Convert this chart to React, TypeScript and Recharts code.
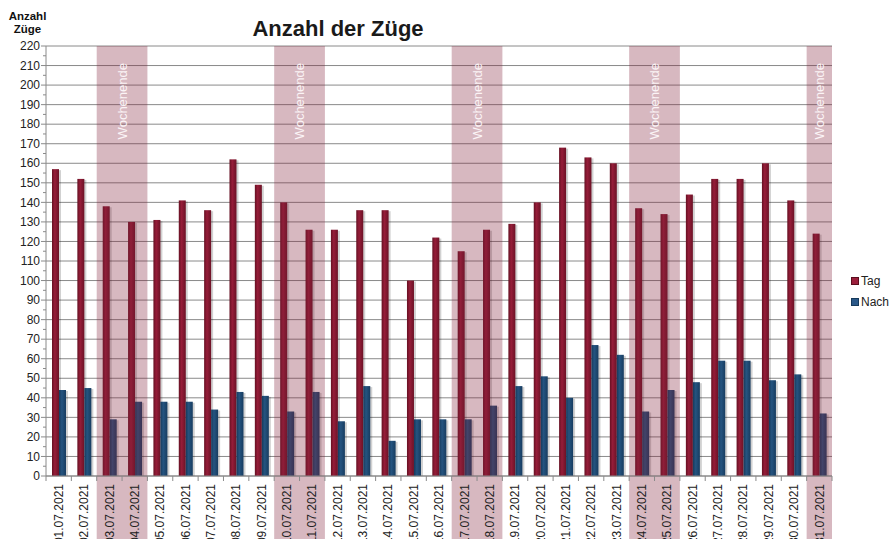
import { BarChart, Bar, XAxis, YAxis, CartesianGrid, ReferenceArea, Legend } from 'recharts';

const dates = [
  '01.07.2021', '02.07.2021', '03.07.2021', '04.07.2021', '05.07.2021', '06.07.2021', '07.07.2021',
  '08.07.2021', '09.07.2021', '10.07.2021', '11.07.2021', '12.07.2021', '13.07.2021', '14.07.2021',
  '15.07.2021', '16.07.2021', '17.07.2021', '18.07.2021', '19.07.2021', '20.07.2021', '21.07.2021',
  '22.07.2021', '23.07.2021', '24.07.2021', '25.07.2021', '26.07.2021', '27.07.2021', '28.07.2021',
  '29.07.2021', '30.07.2021', '31.07.2021',
];
const tag = [157, 152, 138, 130, 131, 141, 136, 162, 149, 140, 126, 126, 136, 136, 100, 122, 115, 126, 129, 140, 168, 163, 160, 137, 134, 144, 152, 152, 160, 141, 124];
const nacht = [44, 45, 29, 38, 38, 38, 34, 43, 41, 33, 43, 28, 46, 18, 29, 29, 29, 36, 46, 51, 40, 67, 62, 33, 44, 48, 59, 59, 49, 52, 32];
const yTicks = [0, 10, 20, 30, 40, 50, 60, 70, 80, 90, 100, 110, 120, 130, 140, 150, 160, 170, 180, 190, 200, 210, 220];
const weekends = [
  ['03.07.2021', '04.07.2021'],
  ['10.07.2021', '11.07.2021'],
  ['17.07.2021', '18.07.2021'],
  ['24.07.2021', '25.07.2021'],
  ['31.07.2021', '31.07.2021'],
];

const data = dates.map((d, i) => ({ date: d, Tag: tag[i], Nacht: nacht[i] }));

const W = 889;
const H = 539;
const AXIS_W = 46;
const X_AXIS_H = 63;
const TOP = 46;
const RIGHT = 57;
const PLOT_H = H - TOP - X_AXIS_H;
const PLOT_W = W - AXIS_W - RIGHT;
const STEP = PLOT_H / (yTicks.length - 1);
const HALF_BAND = PLOT_W / dates.length / 2;
const FONT = '"Liberation Sans", Arial, sans-serif';
const GRID = '#8a8a8a';

const YTick = ({ y, payload }: any) => (
  <g>
    <text x={AXIS_W - 6} y={y} dy="0.35em" textAnchor="end" fontSize={12} fill="#222">
      {payload.value}
    </text>
    <line x1={AXIS_W - 5} x2={AXIS_W} y1={y} y2={y} stroke={GRID} />
    {payload.value < 220 && (
      <line x1={AXIS_W - 3} x2={AXIS_W} y1={y - STEP / 2} y2={y - STEP / 2} stroke={GRID} />
    )}
  </g>
);

const XTick = ({ x, y, payload, index }: any) => (
  <g>
    <line x1={x - HALF_BAND} x2={x - HALF_BAND} y1={y - 8} y2={y - 3} stroke={GRID} />
    {index === dates.length - 1 && (
      <line x1={x + HALF_BAND} x2={x + HALF_BAND} y1={y - 8} y2={y - 3} stroke={GRID} />
    )}
    <text transform={`translate(${x},${y}) rotate(-90)`} textAnchor="end" dy="0.35em" fontSize={12} fill="#222">
      {payload.value}
    </text>
  </g>
);

const BandShape = ({ x, y, width, height }: any) => (
  <g>
    <rect x={x} y={y} width={width} height={height + X_AXIS_H} fill="#84223b" fillOpacity={0.32} />
    <text
      transform={`translate(${x + width / 2},${TOP + 17}) rotate(-90)`}
      textAnchor="end"
      dy="0.35em"
      fontSize={13}
      fill="#fbf4f6"
    >
      Wochenende
    </text>
  </g>
);

const barShape = (gradId: string) => ({ x, y, width, height }: any) => (
  <g>
    <rect x={x + 2} y={y + 1} width={width} height={Math.max(height - 1, 0)} fill="#000" fillOpacity={0.18} />
    <rect x={x} y={y} width={width} height={height} fill={`url(#${gradId})`} />
  </g>
);

const LegendBox = () => (
  <div style={{ fontSize: 12, color: '#222', lineHeight: '21px', whiteSpace: 'nowrap' }}>
    <div>
      <span style={{ display: 'inline-block', width: 6, height: 6, background: '#9b1f3c', border: '0.5px solid #5a0e1e', marginRight: 2 }} />
      Tag
    </div>
    <div>
      <span style={{ display: 'inline-block', width: 6, height: 6, background: '#2a5888', border: '0.5px solid #163a5c', marginRight: 2 }} />
      Nacht
    </div>
  </div>
);

export default function App() {
  return (
    <div style={{ position: 'absolute', left: 0, top: 0, width: W, height: H, fontFamily: FONT, overflow: 'hidden' }}>
      <div style={{ position: 'absolute', left: 0, top: 10, width: 55, textAlign: 'center', fontSize: 11.5, fontWeight: 'bold', lineHeight: '13px', color: '#111' }}>
        Anzahl<br />Züge
      </div>
      <div style={{ position: 'absolute', left: 200, top: 17, width: 276, textAlign: 'center', fontSize: 22, fontWeight: 'bold', color: '#1a1a1a', lineHeight: '24px' }}>
        Anzahl der Züge
      </div>
      <BarChart
        width={W}
        height={H}
        data={data}
        margin={{ top: TOP, right: RIGHT, bottom: 0, left: 0 }}
        barGap={0}
      >
        <defs>
          <linearGradient id="gTag" x1="0" y1="0" x2="1" y2="0">
            <stop offset="0%" stopColor="#651022" />
            <stop offset="40%" stopColor="#961d39" />
            <stop offset="100%" stopColor="#6c1226" />
          </linearGradient>
          <linearGradient id="gNacht" x1="0" y1="0" x2="1" y2="0">
            <stop offset="0%" stopColor="#163a5c" />
            <stop offset="40%" stopColor="#255480" />
            <stop offset="100%" stopColor="#173c60" />
          </linearGradient>
        </defs>
        <CartesianGrid vertical={false} stroke={GRID} />
        <XAxis
          dataKey="date"
          interval={0}
          height={X_AXIS_H}
          stroke={GRID}
          tickLine={false}
          tick={<XTick />}
        />
        <YAxis
          domain={[0, 220]}
          ticks={yTicks}
          width={AXIS_W}
          stroke={GRID}
          tickLine={false}
          tick={<YTick />}
          interval={0}
        />
        <Bar dataKey="Tag" barSize={7} fill="#8b1a33" shape={barShape('gTag')} isAnimationActive={false} />
        <Bar dataKey="Nacht" barSize={7} fill="#1f4e79" shape={barShape('gNacht')} isAnimationActive={false} />
        {weekends.map(([a, b]) => (
          <ReferenceArea key={a} x1={a} x2={b} y1={0} y2={220} shape={<BandShape />} zIndex={450} />
        ))}
        <Legend
          layout="horizontal"
          verticalAlign="middle"
          align="center"
          wrapperStyle={{ left: 851, top: 271, width: 60 }}
          content={<LegendBox />}
        />
      </BarChart>
    </div>
  );
}
